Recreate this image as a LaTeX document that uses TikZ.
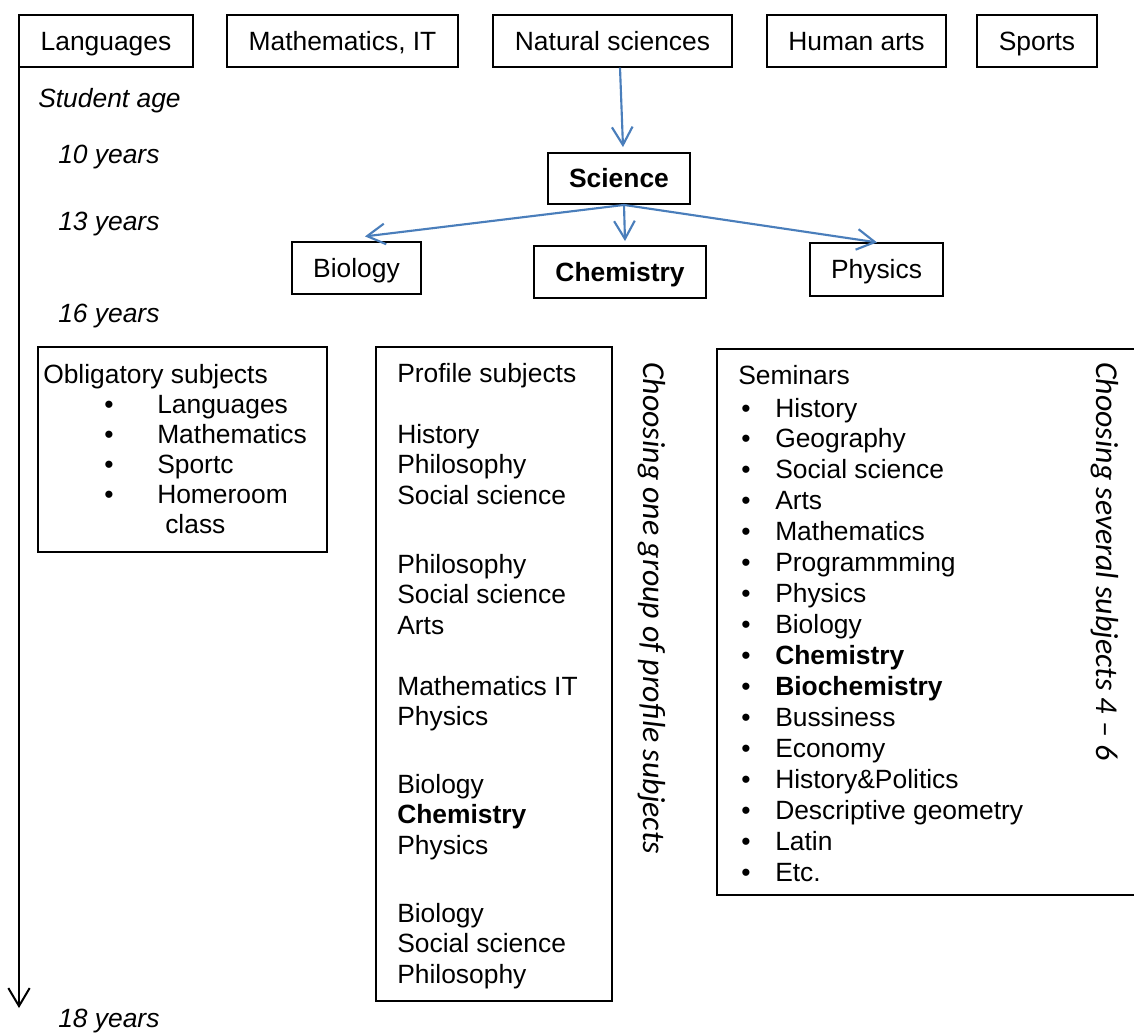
\documentclass[tikz,border=0pt]{standalone}
\usepackage{fontspec}
\setmainfont{Liberation Sans}
\newfontfamily\carl{Carlito}
\usetikzlibrary{arrows.meta}
\newlength\pxu \setlength\pxu{0.75pt}
\definecolor{arrblue}{RGB}{74,126,187}
\newcommand\bul[2]{\makebox[#1\pxu][l]{\textbullet}#2}
\newcommand\lst[2]{{\fontsize{19.8}{#1}\selectfont\begin{tabular}[t]{@{}l@{}}#2\end{tabular}}}
\begin{document}
\begin{tikzpicture}[x=0.75pt, y=-0.75pt,
  font=\fontsize{19.8}{23}\selectfont,
  box/.style={draw, line width=0.9pt, inner sep=0pt, text height=14.2pt, text depth=0pt, minimum height=52\pxu},
  thick box/.style={box, line width=1.4pt},
  frame/.style={draw, line width=0.9pt, inner sep=0pt},
  txt/.style={anchor=base west, inner sep=0pt},
  agetxt/.style={txt, font=\fontsize{19.8}{23}\selectfont\itshape},
  rot/.style={rotate=-90, anchor=west, inner sep=0pt, font=\carl\itshape\fontsize{23.9}{28}\selectfont},
  conn/.style={draw=arrblue, line width=1.6pt, -{Straight Barb[length=13.5pt,width=15.5pt]}}]
\useasboundingbox (0,0) rectangle (1134,1033);

% top row
\node[box, minimum width=174\pxu] (lang) at (106,41) {Languages};
\node[box, minimum width=231\pxu] (math) at (342.5,41) {Mathematics, IT};
\node[box, minimum width=239\pxu] (nat) at (612.5,41) {Natural sciences};
\node[box, minimum width=179\pxu] (hum) at (856.5,41) {Human arts};
\node[thick box, minimum width=120\pxu] (sports) at (1037,41) {Sports};

% science tree
\node[thick box, minimum width=142\pxu, minimum height=51\pxu] (science) at (619,178.5) {\textbf{Science}};
\node[box, minimum width=129\pxu] (bio) at (356.5,268) {Biology};
\node[thick box, minimum width=172\pxu] (chem) at (620,272) {\textbf{Chemistry}};
\node[box, minimum width=133\pxu, minimum height=53\pxu] (phys) at (876.5,269.5) {Physics};

\draw[conn] ([xshift=7.5\pxu]nat.south) -- ([xshift=4\pxu,yshift=5\pxu]science.north);
\draw[conn] ([xshift=5\pxu]science.south) -- ([xshift=8.5\pxu,yshift=5\pxu]bio.north);
\draw[conn] ([xshift=5\pxu]science.south) -- ([xshift=5\pxu,yshift=4\pxu]chem.north);
\draw[conn] ([xshift=5\pxu]science.south) -- ([xshift=0.5\pxu]phys.north);

% age axis
\coordinate (axtop) at (19,39);
\coordinate (axbot) at (19,1008);
\draw[line width=1.5pt, -{Straight Barb[length=13.5pt,width=16pt]}] (axtop) -- (axbot);
\node[agetxt] (age) at (38,107) {Student age};
\node[agetxt] (age10) at (58,163) {10 years};
\node[agetxt] (age13) at (58,230) {13 years};
\node[agetxt] (age16) at (58,322) {16 years};
\node[agetxt] (age18) at (58,1027) {18 years};

% obligatory
\node[frame, minimum width=289\pxu, minimum height=205\pxu] (oblbox) at (182.5,449.5) {};
\node[txt] (oblhead) at (43,383) {Obligatory subjects};
\node[txt] (obllist) at (104,413) {\lst{22.5}{\bul{53}{Languages}\\ \bul{53}{Mathematics}\\ \bul{53}{Sportc}\\ \bul{53}{Homeroom}\\ \hspace*{61\pxu}class}};

% profile
\node[frame, minimum width=236\pxu, minimum height=654\pxu] (profbox) at (494,674) {};
\node[txt] (profhead) at (397,382) {Profile subjects};
\node[txt] (pg1) at (397,443) {\lst{22.9}{History\\ Philosophy\\ Social science}};
\node[txt] (pg2) at (397,573) {\lst{22.9}{Philosophy\\ Social science\\ Arts}};
\node[txt] (pg3) at (397,695) {\lst{22.9}{Mathematics IT\\ Physics}};
\node[txt] (pg4) at (397,793) {\lst{22.9}{Biology\\ \textbf{Chemistry}\\ Physics}};
\node[txt] (pg5) at (397,922) {\lst{22.9}{Biology\\ Social science\\ Philosophy}};
\node[rot] (choose1) at (652,362) {Choosing one group of profile subjects};

% seminars
\node[frame, minimum width=420\pxu, minimum height=546\pxu] (sembox) at (927,622) {};
\node[txt] (semhead) at (738,384) {Seminars};
\node[txt] (semlist) at (741,417) {\lst{23.2}{\bul{34}{History}\\ \bul{34}{Geography}\\ \bul{34}{Social science}\\ \bul{34}{Arts}\\ \bul{34}{Mathematics}\\ \bul{34}{Programmming}\\ \bul{34}{Physics}\\ \bul{34}{Biology}\\ \bul{34}{\textbf{Chemistry}}\\ \bul{34}{\textbf{Biochemistry}}\\ \bul{34}{Bussiness}\\ \bul{34}{Economy}\\ \bul{34}{History\&Politics}\\ \bul{34}{Descriptive geometry}\\ \bul{34}{Latin}\\ \bul{34}{Etc.}}};
\node[rot] (choose2) at (1105,362) {Choosing several subjects 4 – 6};
\end{tikzpicture}
\end{document}
